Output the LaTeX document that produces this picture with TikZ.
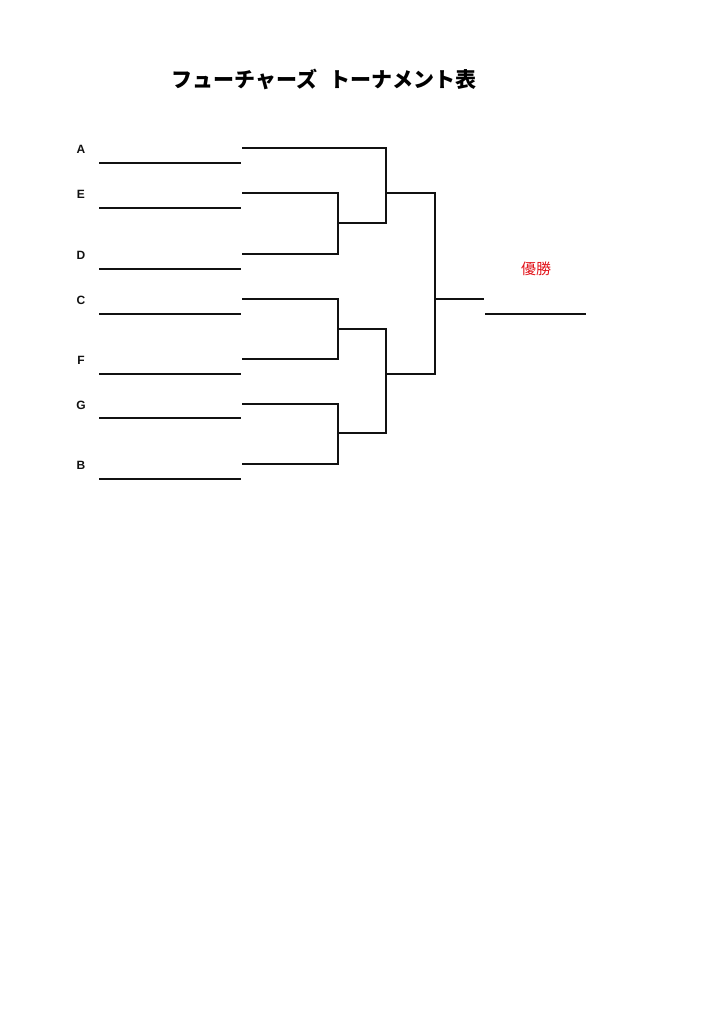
\documentclass[tikz,border=0pt]{standalone}
\usepackage{fontspec}
\setmainfont{Liberation Sans}
\newfontfamily\jpfont{Noto Sans CJK JP}
\usetikzlibrary{calc}
\definecolor{Ink}{HTML}{111111}
\definecolor{WinRed}{HTML}{E2141B}
\tikzset{
  team/.style={font=\bfseries\fontsize{12}{12}\selectfont, text=Ink, inner sep=0pt},
  nameline/.style={draw=Ink, line width=1.1pt},
  bracket/.style={draw=Ink, line width=1.1pt},
  winner/.style={font=\jpfont\fontsize{15}{15}\selectfont, text=WinRed, inner sep=0pt}
}
\begin{document}
\begin{tikzpicture}[x=1pt,y=-1pt]
    \useasboundingbox (0,0) rectangle (724,1024);
    \node[font=\jpfont\bfseries\fontsize{21}{21}\selectfont, inner sep=0pt] (title) at (324,79) {フューチャーズ\hspace{12pt}トーナメント表};
    % teams
    \node[team] (A) at (81,149) {A};
    \node[team] (E) at (81,194) {E};
    \node[team] (D) at (81,255) {D};
    \node[team] (C) at (81,300) {C};
    \node[team] (F) at (81,360) {F};
    \node[team] (G) at (81,405) {G};
    \node[team] (B) at (81,465) {B};
    \draw[nameline] (99,163)--(241,163);
    \draw[nameline] (99,208)--(241,208);
    \draw[nameline] (99,269)--(241,269);
    \draw[nameline] (99,314)--(241,314);
    \draw[nameline] (99,374)--(241,374);
    \draw[nameline] (99,418)--(241,418);
    \draw[nameline] (99,479)--(241,479);
    % first round
    \coordinate (a1) at (242,148);
    \coordinate (e1) at (242,193);
    \coordinate (d1) at (242,254);
    \coordinate (c1) at (242,299);
    \coordinate (f1) at (242,359);
    \coordinate (g1) at (242,404);
    \coordinate (b1) at (242,464);
    \coordinate (ed) at (338,223);
    \coordinate (cf) at (338,329);
    \coordinate (gb) at (338,433);
    \draw[bracket] (e1)-|(ed) (d1)-|(ed);
    \draw[bracket] (c1)-|(cf) (f1)-|(cf);
    \draw[bracket] (g1)-|(gb) (b1)-|(gb);
    % second round
    \coordinate (aed) at (386,193);
    \coordinate (cfgb) at (386,374);
    \draw[bracket] (a1)-|(aed) (ed)-|(aed);
    \draw[bracket] (cf)-|(cfgb) (gb)-|(cfgb);
    % final
    \coordinate (fin) at (435,299);
    \coordinate (champ) at (484,299);
    \draw[bracket] (aed)-|(fin) (cfgb)-|(fin);
    \draw[bracket] (fin)--(champ);
    \node[winner] (win) at (536,269) {優勝};
    \draw[nameline] (485,314)--(586,314);
\end{tikzpicture}
\end{document}
